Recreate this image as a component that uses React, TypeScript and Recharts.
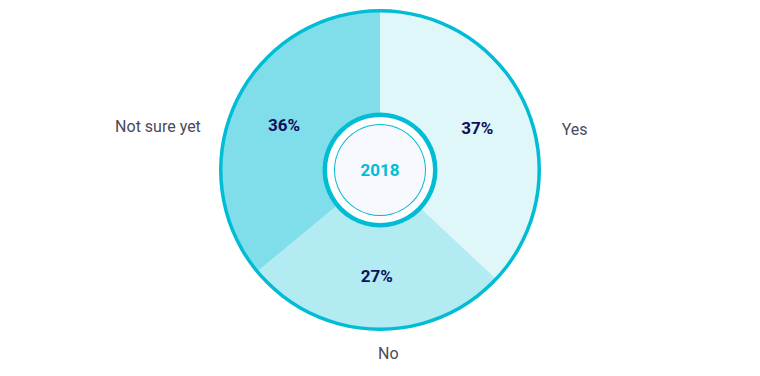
import { PieChart, Pie, Cell } from "recharts";

const answers = ["Yes", "No", "Not sure yet"];
const shares = [37, 27, 36];
const fills = ["#e0f7fa", "#b2ebf2", "#80deea"];
const yearLabel = "2018";

const data = answers.map((name, i) => ({ name, value: shares[i] }));
const ring = [{ name: "ring", value: 1 }];

const RADIAN = Math.PI / 180;
const CYAN = "#00bcd4";

function renderLabels(props: any) {
  const { cx, cy, midAngle, outerRadius, value, name } = props;
  const cos = Math.cos(-midAngle * RADIAN);
  const sin = Math.sin(-midAngle * RADIAN);
  const pr = outerRadius * 0.667;
  const px = cx + pr * cos;
  const py = cy + pr * sin;

  // names sit beside the pie, or underneath it for a slice pointing down
  let nx: number;
  let ny: number;
  let anchor: "start" | "end" | "middle";
  if (Math.abs(sin) > 0.9) {
    nx = cx + (outerRadius + 23) * cos + 14;
    ny = cy + (outerRadius + 24) * Math.sign(sin);
    anchor = "middle";
  } else {
    nx = cx + (outerRadius + 39) * cos;
    ny = py + 2;
    anchor = cos > 0 ? "start" : "end";
  }

  return (
    <g>
      <text
        x={px}
        y={py}
        textAnchor="middle"
        dominantBaseline="central"
        fill="#10105a"
        fontSize={17}
        fontWeight={700}
      >
        {`${value}%`}
      </text>
      <text
        x={nx}
        y={ny}
        textAnchor={anchor}
        dominantBaseline="central"
        fill="#4a4a5c"
        fontSize={16}
      >
        {name}
      </text>
    </g>
  );
}

function renderYear(props: any) {
  return (
    <text
      x={props.cx}
      y={props.cy}
      textAnchor="middle"
      dominantBaseline="central"
      fill={CYAN}
      fontSize={17}
      fontWeight={700}
    >
      {yearLabel}
    </text>
  );
}

export default function App() {
  return (
    <div style={{ width: 760, height: 376, fontFamily: "Roboto, sans-serif" }}>
      <style>{"body{margin:0}"}</style>
      <PieChart width={760} height={376} margin={{ top: 0, right: 0, bottom: 0, left: 0 }}>
        <Pie
          data={data}
          dataKey="value"
          nameKey="name"
          cx={380}
          cy={170}
          outerRadius={159}
          startAngle={90}
          endAngle={-270}
          stroke="none"
          label={renderLabels}
          labelLine={false}
          isAnimationActive={false}
        >
          {data.map((d, i) => (
            <Cell key={d.name} fill={fills[i]} />
          ))}
        </Pie>
        <Pie
          data={ring}
          dataKey="value"
          cx={380}
          cy={170}
          innerRadius={157.5}
          outerRadius={161}
          startAngle={90}
          endAngle={-270}
          fill={CYAN}
          stroke="none"
          isAnimationActive={false}
        />
        <Pie
          data={ring}
          dataKey="value"
          cx={380}
          cy={170}
          outerRadius={57}
          startAngle={90}
          endAngle={-270}
          fill="#ffffff"
          stroke="none"
          isAnimationActive={false}
        />
        <Pie
          data={ring}
          dataKey="value"
          cx={380}
          cy={170}
          innerRadius={53}
          outerRadius={57.5}
          startAngle={90}
          endAngle={-270}
          fill={CYAN}
          stroke="none"
          isAnimationActive={false}
        />
        <Pie
          data={ring}
          dataKey="value"
          cx={380}
          cy={170}
          outerRadius={46}
          startAngle={90}
          endAngle={-270}
          fill="#f8f8ff"
          stroke="none"
          label={renderYear}
          labelLine={false}
          isAnimationActive={false}
        />
        <Pie
          data={ring}
          dataKey="value"
          cx={380}
          cy={170}
          innerRadius={45}
          outerRadius={46}
          startAngle={90}
          endAngle={-270}
          fill={CYAN}
          stroke="none"
          isAnimationActive={false}
        />
      </PieChart>
    </div>
  );
}
